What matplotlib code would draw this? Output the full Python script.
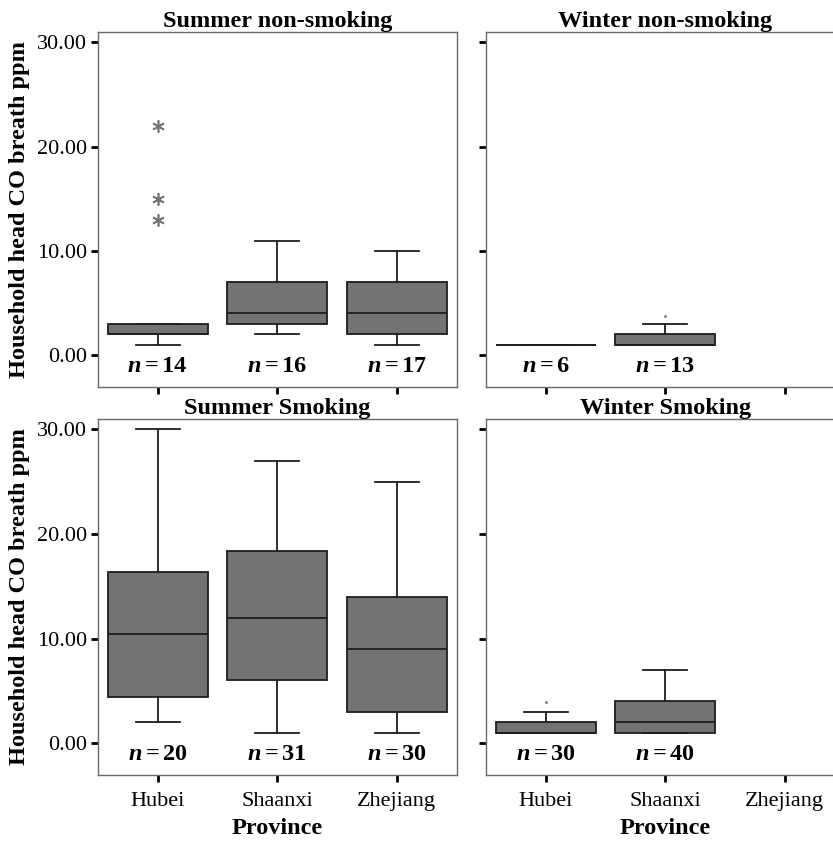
import matplotlib.pyplot as plt

plt.rcParams['font.family'] = ['Liberation Serif', 'DejaVu Serif']
plt.rcParams['mathtext.fontset'] = 'custom'
plt.rcParams['mathtext.it'] = 'Liberation Serif:italic:bold'
plt.rcParams['mathtext.rm'] = 'Liberation Serif:bold'
plt.rcParams['mathtext.bf'] = 'Liberation Serif:bold'

provinces = ['Hubei', 'Shaanxi', 'Zhejiang']
yticks = [0, 10, 20, 30]

# Summer non-smoking
summer_ns_whislo = [1, 2, 1]
summer_ns_q1 = [2, 3, 2]
summer_ns_med = [2, 4, 4]
summer_ns_q3 = [3, 7, 7]
summer_ns_whishi = [3, 11, 10]
summer_ns_n = [14, 16, 17]
summer_ns_outliers = [[], [], []]
summer_ns_extremes = [[13, 15, 22], [], []]

# Winter non-smoking (no Zhejiang data)
winter_ns_whislo = [1, 1]
winter_ns_q1 = [1, 1]
winter_ns_med = [1, 1]
winter_ns_q3 = [1, 2]
winter_ns_whishi = [1, 3]
winter_ns_n = [6, 13]
winter_ns_outliers = [[], [3.8]]
winter_ns_extremes = [[], []]

# Summer smoking
summer_s_whislo = [2, 1, 1]
summer_s_q1 = [4.4, 6, 3]
summer_s_med = [10.4, 12, 9]
summer_s_q3 = [16.4, 18.4, 14]
summer_s_whishi = [30, 27, 25]
summer_s_n = [20, 31, 30]
summer_s_outliers = [[], [], []]
summer_s_extremes = [[], [], []]

# Winter smoking (no Zhejiang data)
winter_s_whislo = [1, 1]
winter_s_q1 = [1, 1]
winter_s_med = [1, 2]
winter_s_q3 = [2, 4]
winter_s_whishi = [3, 7]
winter_s_n = [30, 40]
winter_s_outliers = [[3.9], []]
winter_s_extremes = [[], []]

panels = [
    ('Summer non-smoking', summer_ns_whislo, summer_ns_q1, summer_ns_med, summer_ns_q3,
     summer_ns_whishi, summer_ns_n, summer_ns_outliers, summer_ns_extremes),
    ('Winter non-smoking', winter_ns_whislo, winter_ns_q1, winter_ns_med, winter_ns_q3,
     winter_ns_whishi, winter_ns_n, winter_ns_outliers, winter_ns_extremes),
    ('Summer Smoking', summer_s_whislo, summer_s_q1, summer_s_med, summer_s_q3,
     summer_s_whishi, summer_s_n, summer_s_outliers, summer_s_extremes),
    ('Winter Smoking', winter_s_whislo, winter_s_q1, winter_s_med, winter_s_q3,
     winter_s_whishi, winter_s_n, winter_s_outliers, winter_s_extremes),
]

W, H = 833, 842
fig = plt.figure(figsize=(W / 100, H / 100), dpi=100)

# axes boxes in pixels: left, top, right, bottom
boxes = [(98, 32, 456.5, 387), (486, 32, 844.5, 387),
         (98, 419, 456.5, 775), (486, 419, 844.5, 775)]

fs = 16
fs_bold = 17.5
box_color = '#737373'
edge = '#1e1e1e'
frame = '#6a6a6a'

for i, (title, lo, q1, med, q3, hi, n, outl, extr) in enumerate(panels):
    l, t, r, b = boxes[i]
    ax = fig.add_axes([l / W, 1 - b / H, (r - l) / W, (b - t) / H])

    stats = []
    for k in range(len(lo)):
        stats.append({'whislo': lo[k], 'q1': q1[k], 'med': med[k], 'q3': q3[k],
                      'whishi': hi[k], 'fliers': []})
    pos = list(range(len(stats)))
    ax.bxp(stats, positions=pos, widths=0.84, capwidths=0.37, patch_artist=True,
           showfliers=False,
           boxprops=dict(facecolor=box_color, edgecolor=edge, linewidth=1.3),
           medianprops=dict(color=edge, linewidth=1.3),
           whiskerprops=dict(color=edge, linewidth=1.3),
           capprops=dict(color=edge, linewidth=1.3))

    for k in pos:
        if extr[k]:
            ax.plot([k] * len(extr[k]), extr[k], linestyle='none', marker=(6, 2, 0),
                    markersize=9, color='#757575', markeredgewidth=1.2)
        if outl[k]:
            ax.plot([k] * len(outl[k]), outl[k], linestyle='none', marker='o',
                    markersize=2.2, color='#8a8a8a', markeredgewidth=0)
        ax.text(k, -1.1, r'$n = %d$' % n[k], ha='center', va='center', fontsize=fs_bold)

    ax.set_xlim(-0.5, 2.5)
    ax.set_ylim(-3.05, 31.0)
    ax.set_xticks(range(3))
    ax.set_yticks(yticks)
    ax.set_title(title, fontsize=fs_bold, fontweight='bold', pad=0)

    for s in ax.spines.values():
        s.set_color(frame)
        s.set_linewidth(1.0)
    ax.tick_params(direction='out', length=5, width=2, color='black',
                   labelsize=fs, pad=3)
    ax.tick_params(axis='x', pad=7)

    if i % 2 == 0:
        ax.set_yticklabels(['%.2f' % v for v in yticks])
        ax.set_ylabel('Household head CO breath ppm', fontsize=fs_bold, fontweight='bold',
                      labelpad=5)
    else:
        ax.set_yticklabels([])

    if i >= 2:
        ax.set_xticklabels(provinces)
        ax.set_xlabel('Province', fontsize=fs_bold, fontweight='bold', labelpad=5)
    else:
        ax.set_xticklabels([])

fig.savefig('out.png', dpi=100)
